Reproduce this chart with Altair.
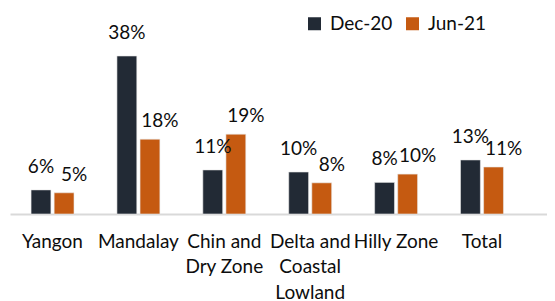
import altair as alt
import pandas as pd

regions = ["Yangon", "Mandalay", "Chin and Dry Zone", "Delta and Coastal Lowland", "Hilly Zone", "Total"]
periods = ["Dec-20", "Jun-21"]
dec20 = [5.8, 38.0, 10.6, 10.1, 7.6, 13.0]
jun21 = [5.1, 18.0, 19.2, 7.5, 9.6, 11.3]
dec20_labels = ["6%", "38%", "11%", "10%", "8%", "13%"]
jun21_labels = ["5%", "18%", "19%", "8%", "10%", "11%"]
label_lines = {
    "Chin and Dry Zone": ["Chin and", "Dry Zone"],
    "Delta and Coastal Lowland": ["Delta and", "Coastal", "Lowland"],
}
colors = ["#222A35", "#C55A11"]

rows = []
for i, r in enumerate(regions):
    rows.append({"region": r, "period": periods[0], "value": dec20[i], "label": dec20_labels[i]})
    rows.append({"region": r, "period": periods[1], "value": jun21[i], "label": jun21_labels[i]})
df = pd.DataFrame(rows)

expr = "datum.label"
for k, v in label_lines.items():
    arr = "[" + ",".join("'" + s + "'" for s in v) + "]"
    expr = f"datum.value == '{k}' ? {arr} : " + expr

FONT = "Lato"
TXT = "#0d0d0d"

x = alt.X("region:N", sort=regions, title=None,
          scale=alt.Scale(paddingInner=0.5, paddingOuter=0.376, align=0.326),
          axis=alt.Axis(labelAngle=0, ticks=False, domainColor="#D9D9D9", domainWidth=2,
                        labelFont=FONT, labelFontSize=19, labelColor=TXT,
                        labelPadding=18, labelLineHeight=25.5, labelLimit=300,
                        labelExpr=expr))
xo = alt.XOffset("period:N", sort=periods, scale=alt.Scale(paddingInner=0.14, paddingOuter=0))
y = alt.Y("value:Q", scale=alt.Scale(domain=[0, 48.1], nice=False, zero=True), axis=None)

bars = alt.Chart(df).mark_bar(stroke="#E8E8E8", strokeWidth=0.6).encode(
    x=x, xOffset=xo, y=y,
    color=alt.Color("period:N", sort=periods,
                    scale=alt.Scale(domain=periods, range=colors),
                    legend=alt.Legend(title=None, orient="none", legendX=295, legendY=0,
                                      direction="horizontal", symbolType="square",
                                      symbolSize=169, symbolStrokeWidth=0,
                                      labelFont=FONT, labelFontSize=19, labelColor=TXT,
                                      labelOffset=6, columnPadding=10, padding=0)),
)

text_dec = alt.Chart(df).transform_filter(alt.datum.period == periods[0]).mark_text(
    baseline="alphabetic", dy=-17, font=FONT, fontSize=19, color=TXT
).encode(x=x, xOffset=xo, y=y, text="label:N")

text_jun = alt.Chart(df).transform_filter(alt.datum.period == periods[1]).mark_text(
    baseline="alphabetic", dy=-12, dx=10, font=FONT, fontSize=19, color=TXT
).encode(x=x, xOffset=xo, y=y, text="label:N")

chart = (bars + text_dec + text_jun).properties(
    width=537, height=200,
    padding={"left": 2, "top": 6, "right": 0, "bottom": 0},
).configure_view(stroke=None)

chart.save("out.html", embed_options={"renderer": "svg", "actions": False})
